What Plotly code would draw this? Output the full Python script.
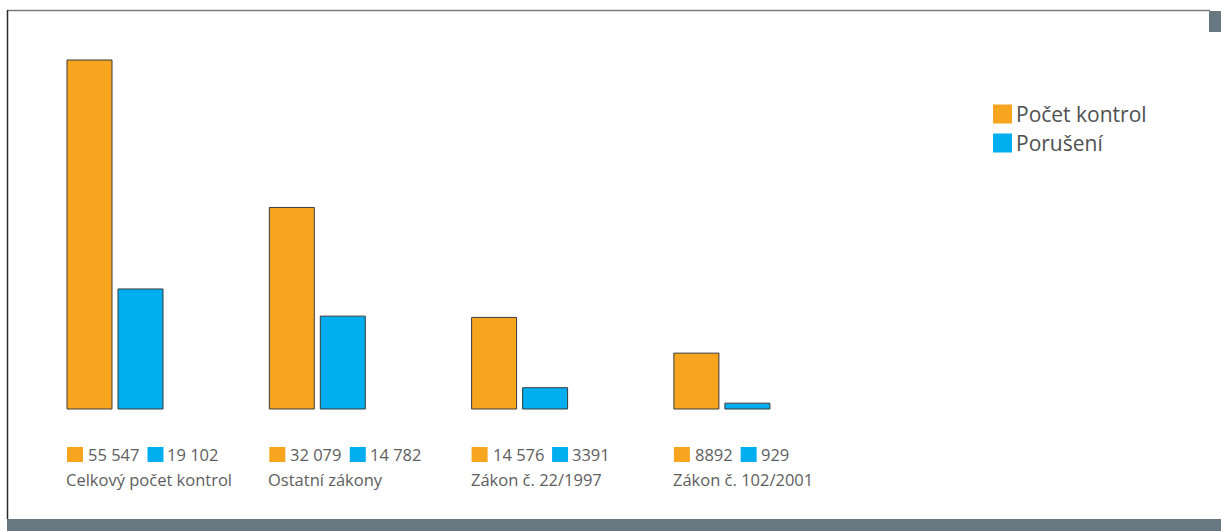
import plotly.graph_objects as go

# ---- data ----
categories = ["Celkový počet kontrol", "Ostatní zákony", "Zákon č. 22/1997", "Zákon č. 102/2001"]
kontroly = [55547, 32079, 14576, 8892]
poruseni = [19102, 14782, 3391, 929]
series_names = ["Počet kontrol", "Porušení"]

ORANGE = "#F7A51E"
BLUE = "#00AEEF"
GRAY_BAND = "#677880"
TEXT = "#5e5e5e"
FONT = "Open Sans"
FS = 16.5

W, H = 1221, 531
UNIT = 202.3          # px per category
C0 = 115.5            # px of first category centre
BASE_PX, TOP_PX = 409.0, 60.0

def fmt(v):
    s = str(v)
    if v >= 10000:
        s = f"{v:,}".replace(",", " ")
    return s

def text_w(s, size=FS):
    return sum(0.26 * size if ch == " " else 0.572 * size for ch in s)

x_idx = list(range(len(categories)))
bw = 45.0 / UNIT
off_o = (67.0 - C0) / UNIT
off_b = (118.0 - C0) / UNIT

fig = go.Figure()
fig.add_trace(go.Bar(x=x_idx, y=kontroly, name=series_names[0], width=bw, offset=off_o,
                     marker=dict(color=ORANGE, line=dict(color="#3a3a3a", width=1)),
                     showlegend=False, hoverinfo="y"))
fig.add_trace(go.Bar(x=x_idx, y=poruseni, name=series_names[1], width=bw, offset=off_b,
                     marker=dict(color=BLUE, line=dict(color="#3a3a3a", width=1)),
                     showlegend=False, hoverinfo="y"))

# axis ranges so that plot area == whole figure
x0 = -C0 / UNIT
x1 = x0 + W / UNIT
s = (BASE_PX - TOP_PX) / max(kontroly)
y1 = BASE_PX / s
y0 = -(H - BASE_PX) / s

def py(p):  # pixel -> paper y
    return 1 - p / H

def px(p):  # pixel -> paper x
    return p / W

shapes = []
annotations = []

# frame
shapes.append(dict(type="line", xref="paper", yref="paper", x0=px(7), x1=px(1210), y0=py(10.5), y1=py(10.5),
                   line=dict(color="#7a7a7a", width=1.5)))
shapes.append(dict(type="line", xref="paper", yref="paper", x0=px(7.5), x1=px(7.5), y0=py(10), y1=py(519),
                   line=dict(color="#2a2a2a", width=1.5)))
shapes.append(dict(type="rect", xref="paper", yref="paper", x0=px(7), x1=1, y0=py(519), y1=0,
                   fillcolor=GRAY_BAND, line=dict(width=0)))
shapes.append(dict(type="rect", xref="paper", yref="paper", x0=px(1209), x1=1, y0=py(11), y1=py(32),
                   fillcolor=GRAY_BAND, line=dict(width=0)))

# category labels with value swatches
for i, cat in enumerate(categories):
    anchor = i + off_o
    t1 = fmt(kontroly[i])
    t2 = fmt(poruseni[i])
    bx = 21 + text_w(t1) + 8
    shapes.append(dict(type="rect", xref="x", yref="paper", xsizemode="pixel", xanchor=anchor,
                       x0=0, x1=16, y0=py(447), y1=py(462), fillcolor=ORANGE, line=dict(width=0)))
    shapes.append(dict(type="rect", xref="x", yref="paper", xsizemode="pixel", xanchor=anchor,
                       x0=bx, x1=bx + 16, y0=py(447), y1=py(462), fillcolor=BLUE, line=dict(width=0)))
    annotations.append(dict(x=anchor, y=py(454.5), xref="x", yref="paper", xanchor="left", yanchor="middle",
                            xshift=19, text=t1, showarrow=False, font=dict(family=FONT, size=FS, color=TEXT)))
    annotations.append(dict(x=anchor, y=py(454.5), xref="x", yref="paper", xanchor="left", yanchor="middle",
                            xshift=bx + 18, text=t2, showarrow=False, font=dict(family=FONT, size=FS, color=TEXT)))
    annotations.append(dict(x=anchor, y=py(479), xref="x", yref="paper", xanchor="left", yanchor="middle",
                            xshift=-3, text=cat, showarrow=False, font=dict(family=FONT, size=FS, color=TEXT)))

# legend (top right)
for k, (name, col) in enumerate(zip(series_names, [ORANGE, BLUE])):
    top = 104.5 + 29 * k
    shapes.append(dict(type="rect", xref="paper", yref="paper", x0=px(993), x1=px(1012),
                       y0=py(top), y1=py(top + 19), fillcolor=col, line=dict(width=0)))
    annotations.append(dict(x=px(1014), y=py(top + 9.5), xref="paper", yref="paper", xanchor="left",
                            yanchor="middle", text=name, showarrow=False,
                            font=dict(family=FONT, size=21, color="#505050")))

fig.update_layout(
    width=W, height=H,
    margin=dict(l=0, r=0, t=0, b=0, pad=0),
    paper_bgcolor="white", plot_bgcolor="white",
    xaxis=dict(range=[x0, x1], visible=False, fixedrange=True),
    yaxis=dict(range=[y0, y1], visible=False, fixedrange=True),
    shapes=shapes, annotations=annotations,
    showlegend=False,
)

fig.write_html("out.html", config={"displayModeBar": False},
               post_script="document.body.style.margin='0';document.body.style.overflow='hidden';")
